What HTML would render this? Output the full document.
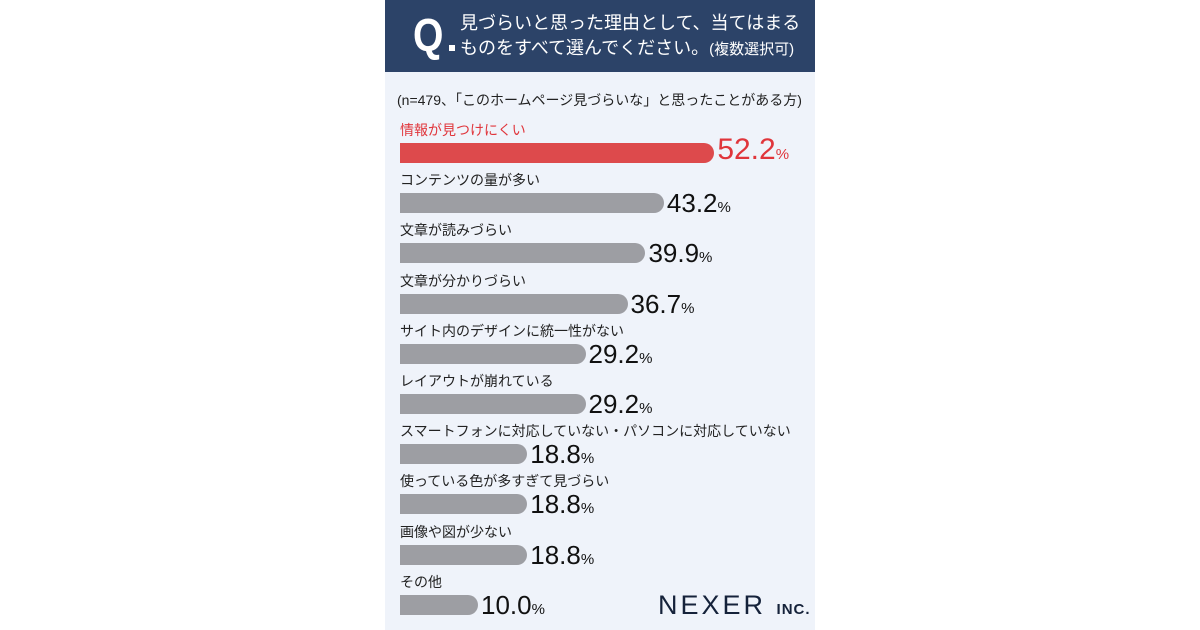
<!DOCTYPE html>
<html><head><meta charset="utf-8">
<style>
body{margin:0;width:1200px;height:630px;background:#fff;position:relative;overflow:hidden;font-family:"Liberation Sans","Noto Sans CJK JP",sans-serif}
#panel{position:absolute;left:385px;top:0;width:430px;height:630px;background:#eff3fa}
#head{position:absolute;left:385px;top:0;width:430px;height:72px;background:#2c4368;color:#fff}
.q{position:absolute;left:28px;top:10px;font-size:46px;font-weight:bold;line-height:50px;transform:scaleX(0.85);transform-origin:left}
.qd{position:absolute;left:64px;top:45px;width:6px;height:6px;background:#fff}
.ht{position:absolute;left:75px;font-size:18px;line-height:22px;white-space:nowrap}
.lbl{position:absolute;left:400px;font-size:14px;color:#222;white-space:nowrap;line-height:16px}
.bar{position:absolute;left:400px;height:20px;background:#9d9ea3;border-radius:0 10px 10px 0}
.val{position:absolute;font-size:26px;color:#111;line-height:26px;white-space:nowrap}
.val small{font-size:15px}
</style></head><body>
<div id="panel"></div>
<div id="head">
<div class="q">Q</div><div class="qd"></div>
<div class="ht" style="top:12px">見づらいと思った理由として、当てはまる</div>
<div class="ht" style="top:37px">ものをすべて選んでください。<span style="font-size:15px">(複数選択可)</span></div>
</div>
<div style="position:absolute;left:397px;top:90px;font-size:14px;color:#222;white-space:nowrap">(n=479、「このホームページ見づらいな」と思ったことがある方)</div>
<div id="chart"></div>
<div style="position:absolute;left:658px;top:590px;font-size:27px;color:#15223a;letter-spacing:3px;white-space:nowrap">NEXER <span style="font-size:15px;font-weight:bold;letter-spacing:1px">INC.</span></div>
<script>
const categories=["情報が見つけにくい","コンテンツの量が多い","文章が読みづらい","文章が分かりづらい","サイト内のデザインに統一性がない","レイアウトが崩れている","スマートフォンに対応していない・パソコンに対応していない","使っている色が多すぎて見づらい","画像や図が少ない","その他"];
const values=[52.2,43.2,39.9,36.7,29.2,29.2,18.8,18.8,18.8,10.0];
const c=document.getElementById('chart');
function xw(v){return 5.6*v+22;}
function yt(i){return 143+i*50.2;}
values.forEach((v,i)=>{
  const top=yt(i),w=xw(v),hi=i===0;
  const l=document.createElement('div');l.className='lbl';
  
  
  l.style.top=(top-21)+'px';l.textContent=categories[i];if(hi)l.style.color='#e0353b';c.appendChild(l);
  const b=document.createElement('div');b.className='bar';
  
  
  b.style.top=top+'px';b.style.width=w+'px';if(hi)b.style.background='#dd4a4c';c.appendChild(b);
  const t=document.createElement('div');t.className='val';
  
  
  t.style.left=(400+w+3)+'px';t.style.top=(top-3)+'px';
  if(hi){t.style.color='#e0353b';t.style.fontSize='30px';t.style.top=(top-6)+'px';}
  t.innerHTML=v.toFixed(1)+'<small>%</small>';c.appendChild(t);
});
</script>
</body></html>
